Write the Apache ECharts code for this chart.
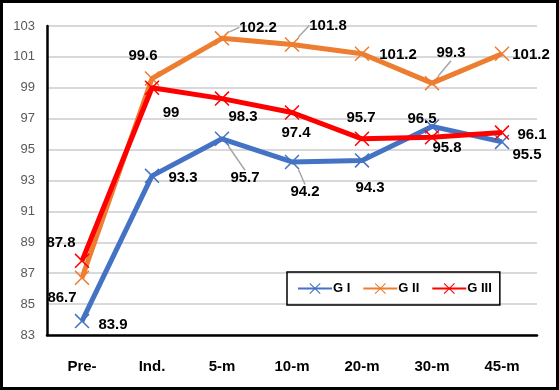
<!DOCTYPE html>
<html><head><meta charset="utf-8">
<script src="https://cdn.jsdelivr.net/npm/echarts@6/dist/echarts.min.js"></script>
<style>
html,body{margin:0;padding:0;background:#fff;}
#wrap{width:559px;height:390px;box-sizing:border-box;border:3px solid #000;position:relative;}
#chart{position:absolute;left:-3px;top:-3px;width:559px;height:390px;}
</style></head>
<body><div id="wrap"><div id="chart"></div></div>
<script>
const categories = ['Pre-', 'Ind.', '5-m', '10-m', '20-m', '30-m', '45-m'];
const seriesNames = ['G I', 'G II', 'G III'];
const g1 = [83.9, 93.3, 95.7, 94.2, 94.3, 96.5, 95.5];
const g2 = [86.7, 99.6, 102.2, 101.8, 101.2, 99.3, 101.2];
const g3 = [87.8, 99, 98.3, 97.4, 95.7, 95.8, 96.1];

// label layout (pixel offsets from the point), kept apart from the data
const off1 = [[31,4],[31,2],[23,39],[13,30],[8,27],[-10,-8],[25,13]];
const off2 = [[-20,20],[-9,-23],[36,-11],[36,-19],[36,1],[19,-30],[29,1]];
const off3 = [[-21,-18],[19,25],[21,18],[4,20],[-1,-21],[15,11],[30,2]];
const lead1 = [false,false,true,true,false,false,false];
const lead2 = [false,false,true,true,false,true,false];
const lead3 = [false,false,false,false,false,false,false];

const FONT = '"Liberation Sans", Arial, sans-serif';
const XSYM = 'path://M0,7 L7,0 L100,93 L93,100 Z M93,0 L100,7 L7,100 L0,93 Z';
const colors = ['#4472C4', '#ED7D31', '#FF0000'];

function mk(name, vals, offs, leads, color) {
  return {
    name: name, type: 'line', data: vals.map((v, i) => ({
      value: v,
      label: {offset: offs[i]},
      labelLine: {show: leads[i], lineStyle: {color: '#A6A6A6', width: 1.5}}
    })),
    symbol: XSYM, symbolSize: 15, showAllSymbol: true,
    lineStyle: {width: 5, color: color},
    itemStyle: {color: color},
    label: {show: true, position: 'inside', align: 'center', verticalAlign: 'middle',
      fontFamily: FONT, fontWeight: 'bold', fontSize: 15, color: '#000'},
    emphasis: {disabled: true},
    animation: false
  };
}

const chart = echarts.init(document.getElementById('chart'), null, {renderer: 'canvas'});
chart.setOption({
  backgroundColor: 'transparent',
  color: colors,
  grid: {left: 47, right: 22, top: 26, bottom: 55, containLabel: false},
  legend: {
    data: seriesNames, left: 287, top: 272, width: 202, height: 35,
    padding: [10, 8, 10, 10], itemGap: 12, itemWidth: 34, itemHeight: 14,
    borderColor: '#000', borderWidth: 1.5,
    textStyle: {fontFamily: FONT, fontWeight: 'bold', fontSize: 13, color: '#000', padding: [0,0,0,-4]}
  },
  xAxis: {
    type: 'category', data: categories, boundaryGap: true,
    axisLine: {lineStyle: {color: '#000', width: 2.5}},
    axisTick: {show: false},
    axisLabel: {fontFamily: FONT, fontWeight: 'bold', fontSize: 15, color: '#000', margin: 24}
  },
  yAxis: {
    type: 'value', min: 83, max: 103, interval: 2,
    axisLine: {show: true, lineStyle: {color: '#000', width: 2.5}},
    axisTick: {show: false},
    splitLine: {lineStyle: {color: '#D9D9D9', width: 2}},
    axisLabel: {fontFamily: FONT, fontSize: 13, color: '#595959', margin: 12}
  },
  series: [
    mk(seriesNames[0], g1, off1, lead1, colors[0]),
    mk(seriesNames[1], g2, off2, lead2, colors[1]),
    mk(seriesNames[2], g3, off3, lead3, colors[2])
  ]
});
</script></body></html>
